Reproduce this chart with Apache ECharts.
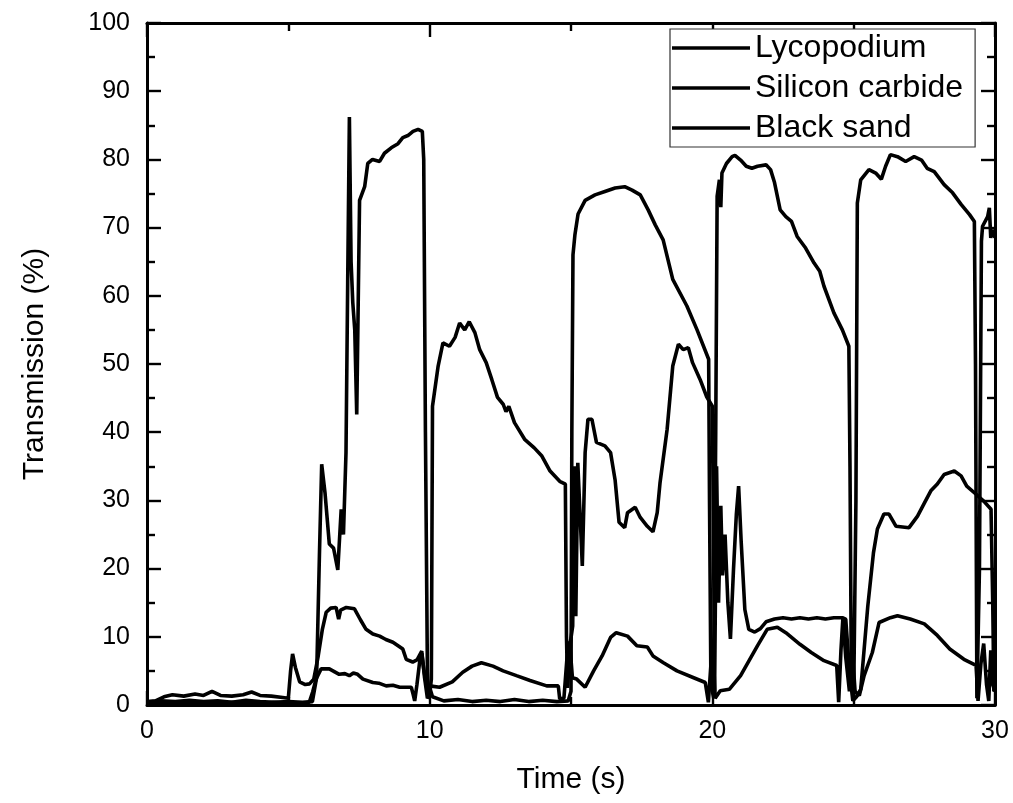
<!DOCTYPE html>
<html>
<head>
<meta charset="utf-8">
<script src="https://cdn.jsdelivr.net/npm/echarts@6/dist/echarts.min.js"></script>
<style>
html,body{margin:0;padding:0;background:#fff;}
#chart{width:1013px;height:803px;}
</style>
</head>
<body>
<div id="chart"></div>
<script>
// ---- data (time in s, transmission in %) ----
const seriesNames = ['Lycopodium', 'Silicon carbide', 'Black sand'];
const xTicks = [0, 10, 20, 30];
const yTicks = [0, 10, 20, 30, 40, 50, 60, 70, 80, 90, 100];

const lycopodium = [[0,0.4],[0.5,0.6],[1,0.5],[1.5,0.7],[2,0.5],[2.5,0.6],[3,0.4],[3.5,0.7],[4,0.5],[4.5,0.4],[5,0.5],[5.5,0.4],[5.85,0.5],[6.0,4],[6.1,22],[6.18,35.3],[6.3,31],[6.45,23.6],[6.6,23],[6.75,19.8],[6.87,28.7],[6.95,25],[7.04,37],[7.1,62],[7.16,86.2],[7.22,65],[7.28,59],[7.35,55],[7.42,42.6],[7.52,74],[7.7,76],[7.81,79.4],[7.98,80],[8.23,79.7],[8.4,80.9],[8.64,81.7],[8.88,82.3],[9.05,83.2],[9.23,83.5],[9.41,84.1],[9.59,84.4],[9.74,84.1],[9.79,80],[9.85,40],[9.92,5],[9.97,1],[10.02,2.3],[10.1,1.2],[10.5,0.6],[11,0.8],[11.5,0.5],[12,0.7],[12.5,0.5],[13,0.8],[13.5,0.5],[14,0.7],[14.5,0.5],[14.9,0.6],[15.0,2],[15.03,40],[15.07,66],[15.14,69],[15.25,72],[15.5,74],[15.85,74.8],[16.2,75.3],[16.56,75.8],[16.9,76],[17.16,75.5],[17.45,74.8],[17.73,72.6],[17.98,70.4],[18.26,68.2],[18.6,62.4],[19.1,58.5],[19.46,55],[19.87,50.7],[19.9,30],[19.95,3],[20.05,1],[20.12,40],[20.17,74.6],[20.25,77],[20.3,73],[20.34,78],[20.5,79.4],[20.7,80.4],[20.8,80.6],[21.0,79.9],[21.2,79],[21.4,78.7],[21.6,79],[21.9,79.2],[22.06,78.5],[22.2,76.6],[22.4,72.6],[22.6,71.6],[22.8,70.9],[23.0,68.7],[23.3,67],[23.6,64.8],[23.8,63.6],[23.95,61.4],[24.3,57.5],[24.6,55],[24.83,52.6],[24.87,35],[24.92,3],[25.0,1],[25.08,30],[25.13,73.6],[25.25,77],[25.54,78.5],[25.78,78],[25.98,77.1],[26.13,79],[26.3,80.7],[26.55,80.4],[26.84,79.7],[27.14,80.4],[27.4,79.9],[27.6,78.7],[27.85,78.2],[28.2,76.3],[28.5,75.1],[28.8,73.4],[29.1,71.9],[29.27,70.9],[29.31,50],[29.36,1],[29.45,20],[29.52,68],[29.56,70.2],[29.74,71.6],[29.8,72.9],[29.85,68.5],[29.92,69.7],[30,68.5]];

const siliconCarbide = [[0,0.5],[0.3,0.6],[0.6,1.2],[0.9,1.5],[1.3,1.3],[1.7,1.6],[2.0,1.4],[2.3,2.0],[2.6,1.4],[3.0,1.3],[3.4,1.5],[3.7,1.9],[4.0,1.4],[4.4,1.3],[4.8,1.1],[5.0,1.0],[5.08,5],[5.15,7.5],[5.25,5.5],[5.4,3.4],[5.6,3.0],[5.75,3.1],[5.9,3.8],[6.05,7],[6.2,11],[6.34,13.6],[6.5,14.2],[6.69,14.3],[6.78,12.6],[6.85,13.9],[7.05,14.3],[7.34,14.1],[7.55,12.5],[7.75,11.1],[7.99,10.4],[8.23,10.1],[8.45,9.6],[8.7,9.2],[9.05,8.2],[9.17,6.7],[9.4,6.3],[9.55,6.6],[9.72,7.9],[9.82,4],[9.92,1],[10.0,1.5],[10.06,3.8],[10.1,43.8],[10.3,49.7],[10.47,53.1],[10.7,52.6],[10.9,53.9],[11.06,56],[11.24,55],[11.4,56.2],[11.6,54.6],[11.77,52.1],[12.0,50.2],[12.2,47.7],[12.4,45.1],[12.6,44.1],[12.7,43],[12.8,43.8],[13.0,41.4],[13.37,38.9],[13.7,37.7],[13.97,36.5],[14.26,34.3],[14.6,32.8],[14.8,32.4],[14.84,10],[14.88,2.5],[14.97,9],[15.06,11.6],[15.12,35],[15.17,13],[15.24,35.5],[15.32,28],[15.4,20.4],[15.5,37],[15.6,41.9],[15.74,41.9],[15.9,38.5],[16.2,38],[16.4,37],[16.56,33],[16.7,26.8],[16.9,26],[17.0,28.2],[17.27,29],[17.45,27.5],[17.7,26.2],[17.9,25.4],[18.05,28.2],[18.15,32.6],[18.4,40.4],[18.6,49.7],[18.8,52.9],[18.97,52.1],[19.15,52.4],[19.3,50.2],[19.57,47.7],[19.8,45.2],[20.0,43.8],[20.05,20],[20.08,2],[20.15,35],[20.22,15],[20.3,29.2],[20.36,19],[20.45,25],[20.55,15],[20.64,9.7],[20.75,20],[20.85,28],[20.93,32.1],[21.02,24],[21.15,14],[21.29,11.1],[21.5,10.7],[21.7,11.2],[21.9,12.2],[22.2,12.6],[22.5,12.8],[22.8,12.6],[23.1,12.8],[23.4,12.6],[23.7,12.8],[24.0,12.6],[24.3,12.8],[24.6,12.8],[24.72,12.6],[24.85,5],[24.97,0.6],[25.1,1.2],[25.25,2.3],[25.5,14.5],[25.7,22.3],[25.84,25.8],[26.07,28],[26.25,28],[26.5,26.2],[26.96,26],[27.26,27.7],[27.5,29.6],[27.73,31.4],[27.96,32.4],[28.2,33.8],[28.56,34.3],[28.8,33.6],[29.0,32.1],[29.33,30.9],[29.6,29.9],[29.86,28.7],[29.92,15],[29.96,2],[30,12]];

const blackSand = [[0,0.2],[0.5,0.3],[1,0.2],[1.5,0.4],[2,0.3],[2.5,0.2],[3,0.4],[3.5,0.3],[4,0.2],[4.5,0.4],[5,0.3],[5.5,0.2],[5.74,0.4],[5.86,1.9],[5.98,3.8],[6.16,5.3],[6.45,5.3],[6.8,4.5],[7.0,4.6],[7.16,4.3],[7.3,4.7],[7.45,4.5],[7.64,3.8],[7.99,3.3],[8.2,3.2],[8.46,2.8],[8.7,2.9],[8.94,2.6],[9.35,2.6],[9.42,1.5],[9.47,0.6],[9.55,3],[9.65,6.5],[9.72,7.6],[9.8,5],[9.9,2.5],[10.0,2.8],[10.35,2.6],[10.8,3.4],[11.17,4.8],[11.5,5.7],[11.83,6.2],[12.24,5.7],[12.6,5],[13.07,4.3],[13.55,3.6],[14.14,2.8],[14.55,2.8],[14.6,0.9],[14.75,1],[14.86,7],[14.95,9.3],[15.05,4],[15.2,3.8],[15.5,2.6],[15.8,5],[16.1,7.2],[16.4,9.9],[16.6,10.6],[17.0,10.1],[17.33,8.7],[17.7,8.5],[17.9,7.2],[18.27,6.2],[18.75,5],[19.34,4.0],[19.75,3.3],[19.86,0.4],[19.95,6],[20.02,9],[20.1,1],[20.28,2.1],[20.6,2.3],[21.0,4.3],[21.3,6.5],[21.6,8.7],[21.94,11.1],[22.3,11.4],[22.6,10.6],[23.1,8.9],[23.5,7.7],[23.95,6.5],[24.4,5.8],[24.47,0.4],[24.55,8],[24.62,12.8],[24.72,7],[24.85,2],[24.95,8],[25.05,2],[25.2,1.4],[25.37,4.3],[25.66,7.7],[25.9,12.1],[26.3,12.8],[26.55,13.1],[27.0,12.6],[27.5,11.9],[27.96,10.2],[28.4,8.2],[28.9,6.7],[29.33,5.8],[29.4,0.6],[29.5,6],[29.6,9],[29.7,3],[29.78,0.6],[29.85,8],[29.92,3],[30,2]];

// ---- chart ----
const FONT = '"Liberation Sans", Arial, Helvetica, sans-serif';
const chart = echarts.init(document.getElementById('chart'), null, {renderer: 'canvas'});

function axisCommon(showLabels, isX) {
  const ticks = isX ? xTicks : yTicks;
  return {
    type: 'value',
    min: ticks[0],
    max: ticks[ticks.length - 1],
    interval: ticks[1] - ticks[0],
    axisLine: {show: true, onZero: false, lineStyle: {color: '#000', width: 3}},
    axisTick: {show: true, inside: true, length: 14, lineStyle: {color: '#000', width: 2.4}},
    minorTick: {show: true, splitNumber: 2, length: 8, lineStyle: {color: '#000', width: 2.4}},
    splitLine: {show: false},
    minorSplitLine: {show: false},
    axisLabel: {show: showLabels, color: '#000', fontSize: 25, fontFamily: FONT, margin: isX ? 14 : 17}
  };
}

const data = [lycopodium, siliconCarbide, blackSand];

chart.setOption({
  animation: false,
  backgroundColor: '#fff',
  grid: {left: 147, right: 18, top: 23, bottom: 98, containLabel: false},
  legend: {
    show: true,
    orient: 'vertical',
    left: 670,
    top: 29,
    data: seriesNames,
    icon: 'rect',
    itemWidth: 78,
    itemHeight: 3.5,
    itemGap: 8,
    padding: [3, 12, 3, 2],
    borderColor: '#333',
    borderWidth: 1.2,
    backgroundColor: '#fff',
    textStyle: {color: '#000', fontSize: 32, fontFamily: FONT, lineHeight: 32}
  },
  xAxis: [
    Object.assign(axisCommon(true, true), {
      position: 'bottom',
      name: 'Time (s)',
      nameLocation: 'middle',
      nameGap: 60,
      nameTextStyle: {color: '#000', fontSize: 30, fontFamily: FONT}
    }),
    Object.assign(axisCommon(false, true), {position: 'top'})
  ],
  yAxis: [
    Object.assign(axisCommon(true, false), {
      position: 'left',
      name: 'Transmission (%)',
      nameLocation: 'middle',
      nameGap: 97,
      nameTextStyle: {color: '#000', fontSize: 30, fontFamily: FONT}
    }),
    Object.assign(axisCommon(false, false), {position: 'right'})
  ],
  series: seriesNames.map((name, i) => ({
    name: name,
    type: 'line',
    xAxisIndex: 0,
    yAxisIndex: 0,
    data: data[i],
    showSymbol: false,
    symbol: 'none',
    smooth: false,
    lineStyle: {color: '#000', width: 3.6},
    itemStyle: {color: '#000'},
    clip: true
  }))
});
</script>
</body>
</html>
